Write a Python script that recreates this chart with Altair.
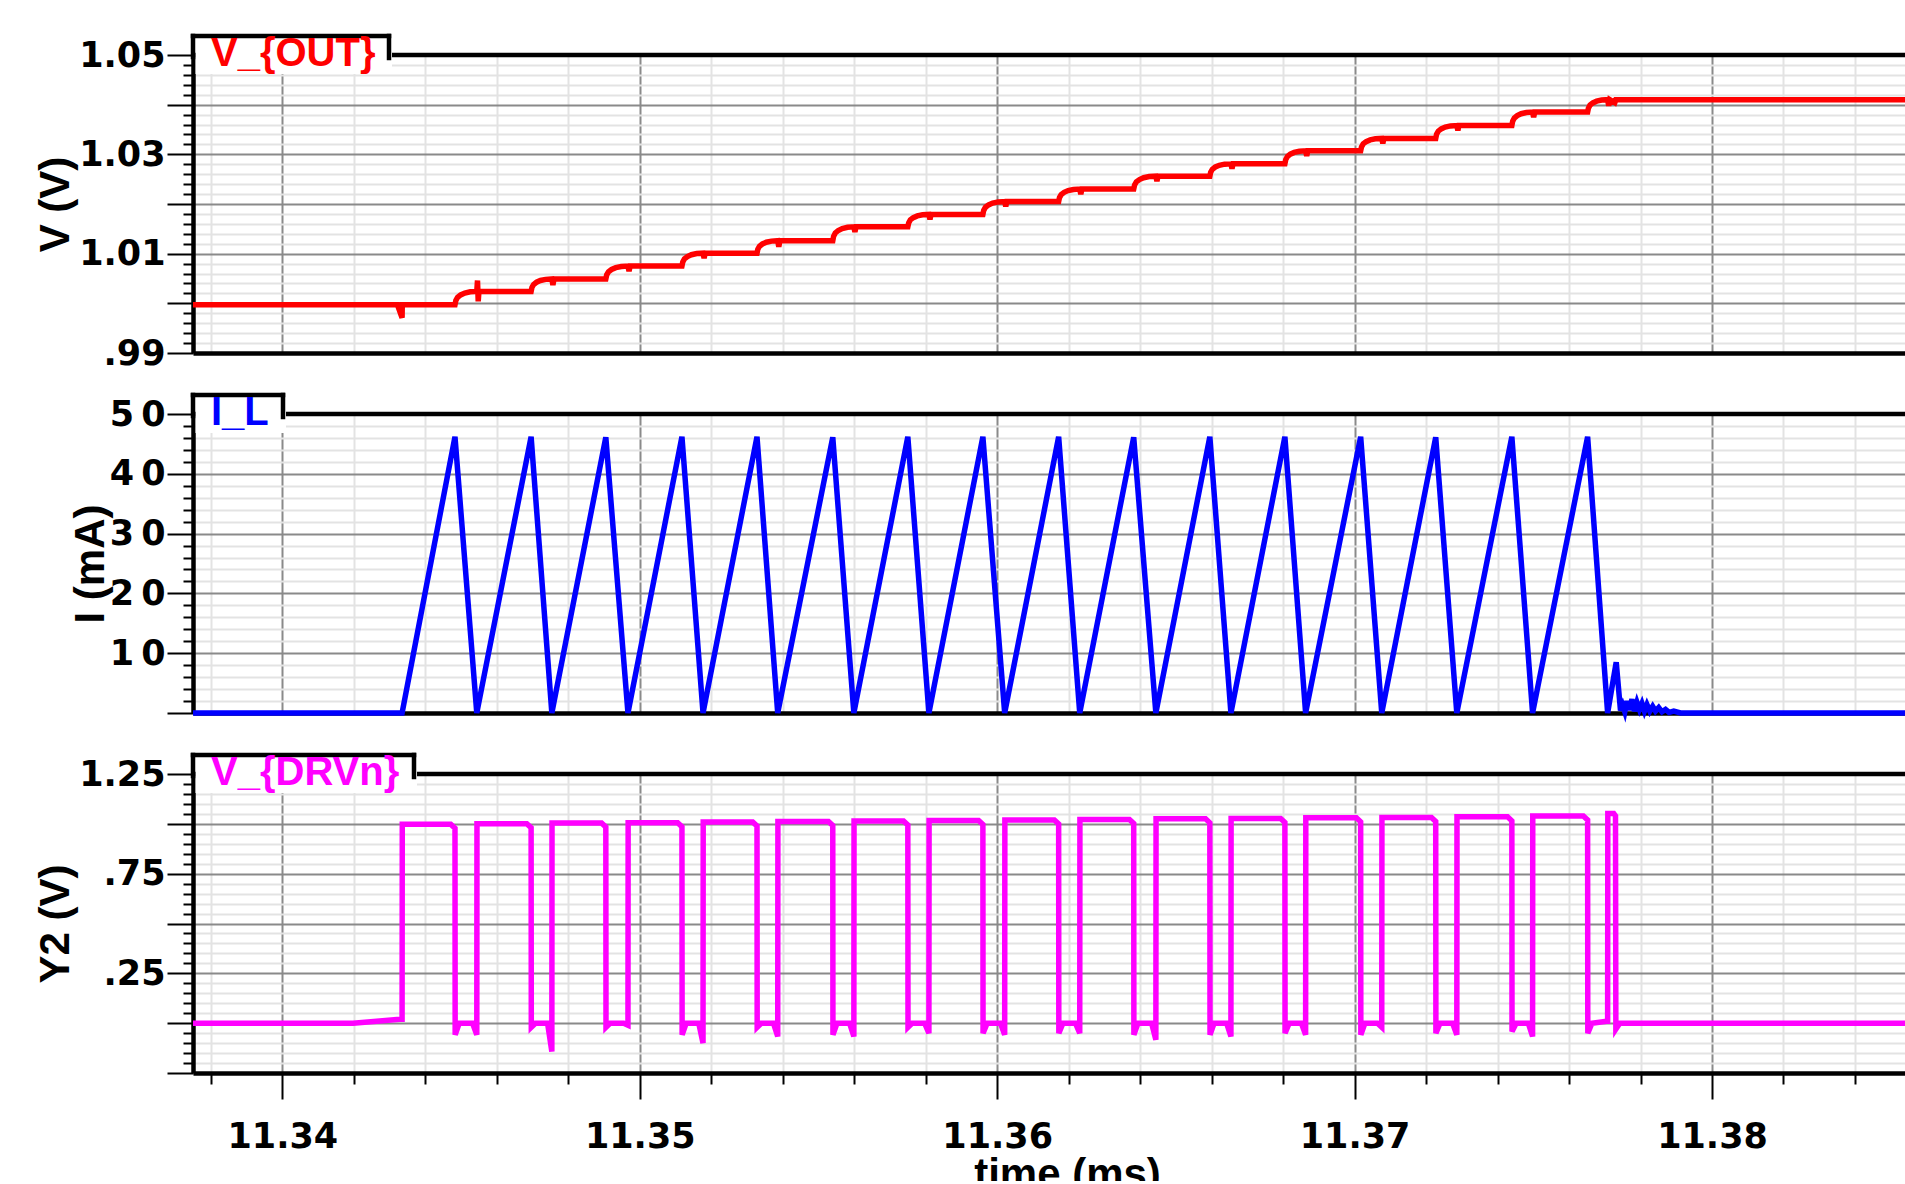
import altair as alt
import pandas as pd

# ---------------- data ----------------
T_START = 11.3375
T_END = 11.3854

# switching events (ms)
T_ON1 = 11.34335
PEAK_T = [11.34483, 11.34696, 11.34905, 11.35118, 11.35328, 11.35540, 11.35750, 11.35960,
          11.36172, 11.36382, 11.36595, 11.36805, 11.37017, 11.37227, 11.37440, 11.37652]
VALLEY_T = [11.34544, 11.34754, 11.34967, 11.35177, 11.35386, 11.35599, 11.35809, 11.36021,
            11.36231, 11.36444, 11.36654, 11.36863, 11.37076, 11.37286, 11.37498, 11.37708]

# inductor current (mA)
PEAK_I = [46.2, 46.2, 46.1, 46.2, 46.2, 46.1, 46.2, 46.2,
          46.2, 46.1, 46.2, 46.2, 46.2, 46.1, 46.2, 46.2]
RING_T = [11.37732, 11.37744, 11.37750, 11.37756, 11.37762, 11.37769, 11.37776, 11.37783,
          11.37790, 11.37797, 11.37804, 11.37811, 11.37818, 11.37826, 11.37834, 11.37842,
          11.37851, 11.37860, 11.37870, 11.37880, 11.37893, 11.37912]
RING_I = [8.5, 0.4, 1.3, 0.2, 2.0, 0.5, 2.3, 0.3, 1.8, 0.6, 1.6, 0.3,
          1.4, 0.3, 1.1, 0.3, 0.9, 0.2, 0.6, 0.1, 0.3, 0.0]

# output voltage (V): level before first pulse and after each step
VOUT_LEVELS = [0.9997, 1.0024, 1.0049, 1.0075, 1.0101, 1.0126, 1.0154, 1.0179, 1.0205,
               1.0230, 1.0256, 1.0281, 1.0307, 1.0332, 1.0358, 1.0385, 1.0410]
# shape of one step (fraction of the discharge interval -> fraction of the step)
STEP_F = [0.0, 0.04, 0.12, 0.26, 0.45, 0.70, 1.0]
STEP_V = [0.0, 0.32, 0.56, 0.74, 0.88, 0.97, 1.0]
VOUT_ON_DIP = -0.0026
VOUT_FIRST_SPIKE = [0.0022, -0.0020]
VOUT_NOTCH = [-0.0012, -0.0010, -0.0010, -0.0012, -0.0010, -0.0010, -0.0010, -0.0010,
              -0.0010, -0.0010, -0.0010, -0.0010, -0.0010, -0.0010, -0.0012]
VOUT_TAIL_T = [11.37728]
VOUT_TAIL_DIP = [-0.0006]

# driver voltage (V)
DRV_PRE_T = [11.3375, 11.34198, 11.34329]
DRV_PRE_V = [0.0, 0.0, 0.02]
DRV_HIGH = [0.998, 1.001, 1.004, 1.006, 1.009, 1.012, 1.014, 1.017,
            1.019, 1.022, 1.025, 1.027, 1.030, 1.032, 1.035, 1.039]
DRV_FALL_DIP = [-0.058, -0.02, -0.02, -0.058, -0.02, -0.058, -0.02, -0.05,
                -0.05, -0.058, -0.058, -0.05, -0.058, -0.05, -0.042, -0.05]
DRV_RISE_DIP = [-0.058, -0.142, -0.01, -0.1, -0.067, -0.067, -0.05, -0.058,
                -0.05, -0.083, -0.067, -0.058, -0.02, -0.058, -0.067]
DRV_SPIKE_T = [11.377085, 11.37725, 11.37730, 11.37731, 11.37742]
DRV_SPIKE_V = [1.052, 1.052, 1.040, -0.03, 0.0]

# axis ticks and labels
X_TICKS = [round(11.338 + 0.002 * i, 3) for i in range(24)]
X_LABELS = [(11.34, "11.34"), (11.35, "11.35"), (11.36, "11.36"), (11.37, "11.37"), (11.38, "11.38")]
Y1_TICKS = [round(0.99 + 0.002 * i, 3) for i in range(31)]
Y1_LABELS = [(1.05, "1.05"), (1.03, "1.03"), (1.01, "1.01"), (0.99, ".99")]
Y2_TICKS = [2 * i for i in range(26)]
Y2_LABELS = [(50, "5\u20090"), (40, "4\u20090"), (30, "3\u20090"), (20, "2\u20090"), (10, "1\u20090")]
Y3_TICKS = [round(-0.25 + 0.05 * i, 2) for i in range(31)]
Y3_LABELS = [(1.25, "1.25"), (0.75, ".75"), (0.25, ".25")]

TITLES = ["V_{OUT}", "I_L", "V_{DRVn}"]
COLORS = ["#ff0000", "#0000ff", "#ff00ff"]
Y_TITLES = ["V (V)", "I (mA)", "Y2 (V)"]

# ---------------- tables ----------------
def table(t, v):
    return pd.DataFrame({"t": t, "v": v, "i": list(range(len(t)))})


def build_il():
    t = [T_START, T_ON1]
    v = [0.0, 0.0]
    for tp, ip, tv in zip(PEAK_T, PEAK_I, VALLEY_T):
        t += [tp, tv]
        v += [ip, 0.0]
    t += RING_T + [T_END]
    v += RING_I + [0.0]
    return table(t, v)


def build_vout():
    L = VOUT_LEVELS
    t = [T_START, T_ON1 - 0.00013, T_ON1, T_ON1 + 0.000005]
    v = [L[0], L[0], L[0] + VOUT_ON_DIP, L[0]]
    for k in range(16):
        tp, tv = PEAK_T[k], VALLEY_T[k]
        for f, s in zip(STEP_F, STEP_V):
            t.append(tp + f * (tv - tp))
            v.append(L[k] + s * (L[k + 1] - L[k]))
        if k == 0:
            t += [tv + 0.00002, tv + 0.00004, tv + 0.00006]
            v += [L[1] + VOUT_FIRST_SPIKE[0], L[1] + VOUT_FIRST_SPIKE[1], L[1]]
        else:
            t += [tv + 0.00003, tv + 0.00006]
            v += [L[k + 1] + VOUT_NOTCH[k - 1], L[k + 1]]
    for tt, d in zip(VOUT_TAIL_T, VOUT_TAIL_DIP):
        t += [tt, tt + 0.00003]
        v += [L[16] + d, L[16]]
    t.append(T_END)
    v.append(L[16])
    return table(t, v)


def build_drv():
    t = DRV_PRE_T + [T_ON1]
    v = DRV_PRE_V + [0.02]
    for k in range(16):
        rise = T_ON1 if k == 0 else VALLEY_T[k - 1]
        tp = PEAK_T[k]
        t += [rise + 0.000005, tp - 0.00012, tp, tp + 0.000005, tp + 0.00012]
        v += [DRV_HIGH[k], DRV_HIGH[k], DRV_HIGH[k] - 0.02, DRV_FALL_DIP[k], 0.0]
        if k < 15:
            tv = VALLEY_T[k]
            t += [tv - 0.00012, tv]
            v += [0.0, DRV_RISE_DIP[k]]
        else:
            t += [VALLEY_T[k] - 0.00003, VALLEY_T[k]]
            v += [0.01, 0.01]
    t += DRV_SPIKE_T + [T_END]
    v += DRV_SPIKE_V + [0.0]
    return table(t, v)


# ---------------- styling helpers ----------------
W = 1712
HEIGHTS = [298, 299, 299]
SPACING = 61
LINE_W = 5.5
TICK_FONT = "DejaVu Sans"
TITLE_FONT = "Liberation Sans"
MAJOR_GRID = "#8a8a8a"
MINOR_GRID = "#e3e3e3"
DUMMY = pd.DataFrame({"k": [0]})


def label_expr(labels):
    parts = [f"abs(datum.value - ({val})) < 1e-7 ? '{txt}'" for val, txt in labels]
    return " : ".join(parts) + " : ''"


def y_axis(ticks, labels, major_test, title, title_x, height):
    return alt.Axis(
        values=ticks,
        labelExpr=label_expr(labels),
        labelFont=TICK_FONT, labelFontSize=35, labelFontWeight="bold", labelColor="black",
        labelPadding=2, labelOverlap=False, labelFlush=False,
        tickColor="black", tickWidth=2,
        tickSize={"condition": {"test": f"!({major_test})", "value": 10}, "value": 26},
        grid=True, gridWidth=2,
        gridColor={"condition": {"test": major_test, "value": MAJOR_GRID}, "value": MINOR_GRID},
        domainColor="black", domainWidth=4.5,
        title=title, titleFont=TITLE_FONT, titleFontSize=42, titleFontWeight="bold",
        titleColor="black", titleAngle=270, titleAlign="center", titleBaseline="alphabetic",
        titleX=title_x, titleY=height / 2,
    )


X_MAJOR = "abs(datum.value * 100 - round(datum.value * 100)) < 0.01"
X_GRID_COLOR = {"condition": {"test": X_MAJOR, "value": MAJOR_GRID}, "value": MINOR_GRID}

x_axis_plain = alt.Axis(
    values=X_TICKS, labels=False, ticks=False, grid=True, gridWidth=2, gridColor=X_GRID_COLOR,
    domainColor="black", domainWidth=4.5, title=None,
)
x_axis_bottom = alt.Axis(
    values=X_TICKS, labelExpr=label_expr(X_LABELS),
    labelFont=TICK_FONT, labelFontSize=35, labelFontWeight="bold", labelColor="black",
    labelPadding=20, labelOverlap=False, labelFlush=False,
    tickColor="black", tickWidth=2,
    tickSize={"condition": {"test": f"!({X_MAJOR})", "value": 11}, "value": 26},
    grid=True, gridWidth=2, gridColor=X_GRID_COLOR,
    domainColor="black", domainWidth=4.5,
    title="time (ms)", titleFont=TITLE_FONT, titleFontSize=42, titleFontWeight="bold",
    titleColor="black", titleAlign="center", titleBaseline="alphabetic",
    titleX=874, titleY=114,
)

x_scale = alt.Scale(domain=[T_START, T_END], nice=False, zero=False)


def panel(df, color, y_scale, yax, xax, height, title_text, box_w):
    line = alt.Chart(df).mark_line(color=color, strokeWidth=LINE_W).encode(
        x=alt.X("t:Q", scale=x_scale, axis=xax),
        y=alt.Y("v:Q", scale=y_scale, axis=yax),
        order=alt.Order("i:Q"),
    )
    base = alt.Chart(DUMMY)
    top_rule = base.mark_rule(color="black", strokeWidth=4.5).encode(
        x=alt.value(0), x2=alt.value(W), y=alt.value(0))
    box_fill = base.mark_rect(color="white").encode(
        x=alt.value(2.5), x2=alt.value(box_w + 3), y=alt.value(-19), y2=alt.value(19))
    box_top = base.mark_rule(color="black", strokeWidth=4.5, strokeCap="square").encode(
        x=alt.value(0), x2=alt.value(box_w), y=alt.value(-19))
    box_right = base.mark_rule(color="black", strokeWidth=4.5, strokeCap="square").encode(
        x=alt.value(box_w), y=alt.value(-19), y2=alt.value(3))
    box_left = base.mark_rule(color="black", strokeWidth=4.5, strokeCap="square").encode(
        x=alt.value(0), y=alt.value(-19), y2=alt.value(2))
    label = base.mark_text(
        text=title_text, align="left", baseline="alphabetic", font=TITLE_FONT,
        fontSize=40, fontWeight="bold", color=color,
    ).encode(x=alt.value(18), y=alt.value(10.5))
    return alt.layer(line, top_rule, box_fill, box_top, box_right, box_left, label).properties(
        width=W, height=height)


top = panel(
    build_vout(), COLORS[0], alt.Scale(domain=[0.99, 1.05], nice=False, zero=False),
    y_axis(Y1_TICKS, Y1_LABELS, "abs(datum.value * 100 - round(datum.value * 100)) < 0.01",
           Y_TITLES[0], -125, HEIGHTS[0]),
    x_axis_plain, HEIGHTS[0], TITLES[0], 196,
)
mid = panel(
    build_il(), COLORS[1], alt.Scale(domain=[0, 50], nice=False, zero=False),
    y_axis(Y2_TICKS, Y2_LABELS, "abs(datum.value / 10 - round(datum.value / 10)) < 0.01",
           Y_TITLES[1], -90, HEIGHTS[1]),
    x_axis_plain, HEIGHTS[1], TITLES[1], 90,
)
bot = panel(
    build_drv(), COLORS[2], alt.Scale(domain=[-0.25, 1.25], nice=False, zero=False),
    y_axis(Y3_TICKS, Y3_LABELS, "abs(datum.value * 4 - round(datum.value * 4)) < 0.01",
           Y_TITLES[2], -125, HEIGHTS[2]),
    x_axis_bottom, HEIGHTS[2], TITLES[2], 221,
)

# the line marks' stroke bounds reach past the plot's right edge; trim them so the
# page is exactly the window's size
chart = alt.vconcat(top, mid, bot, spacing=SPACING, bounds="flush").properties(
    padding={"left": 34, "top": 32, "right": -11, "bottom": -14},
).configure_view(strokeOpacity=0)

chart.save("out.html", embed_options={"renderer": "svg", "actions": False})
